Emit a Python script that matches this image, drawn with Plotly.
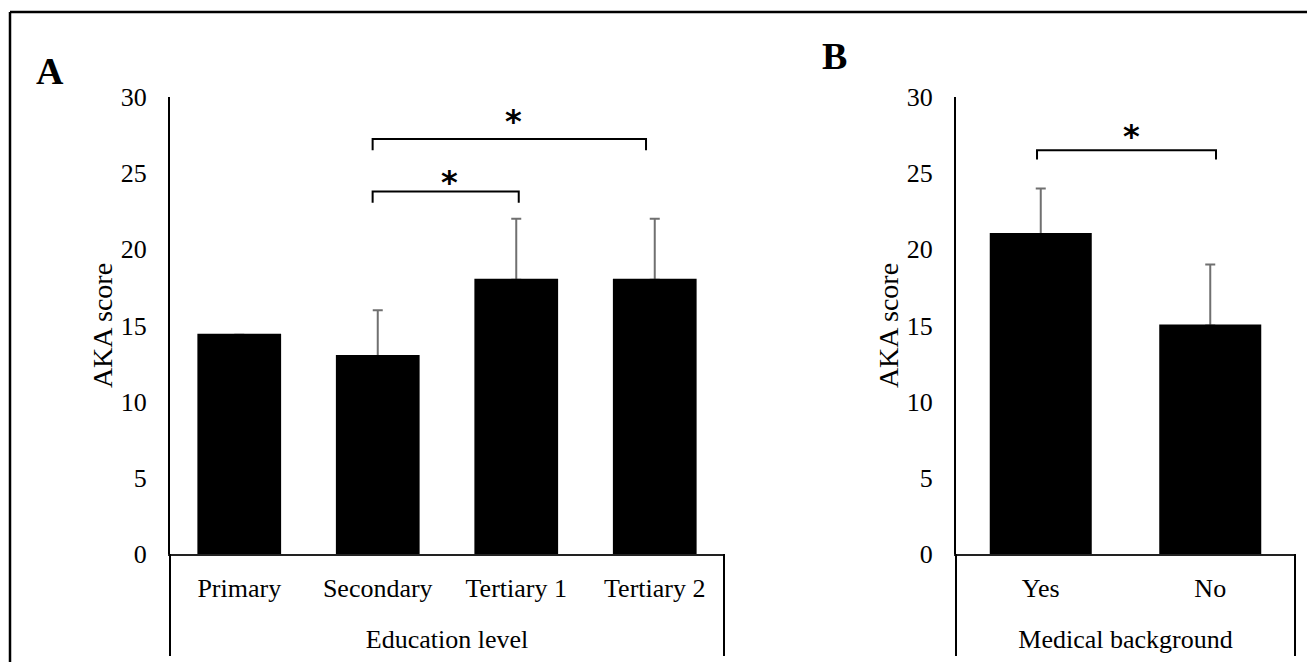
import plotly.graph_objects as go

# ---------------- data ----------------
edu_categories = ["Primary", "Secondary", "Tertiary 1", "Tertiary 2"]
edu_scores = [14.4, 13, 18, 18]
edu_err_plus = [None, 3, 4, 4]

med_categories = ["Yes", "No"]
med_scores = [21, 15]
med_err_plus = [3, 4]

y_ticks = [0, 5, 10, 15, 20, 25, 30]

# significance brackets: (axis, x_left, x_right, y_top, y_bottom, star_x, star_y)
brackets = [
    ("1", 0.963, 2.018, 23.8, 23.05, 1.52, 24.45),
    ("1", 0.963, 2.937, 27.25, 26.5, 1.98, 28.4),
    ("2", -0.022, 1.034, 26.5, 25.9, 0.537, 27.45),
]

# ---------------- layout helpers ----------------
W, H = 1307, 662
def px(x):
    return x / W
def py(y):
    return 1 - y / H

FONT = "Liberation Serif"
ERR_COLOR = "#707070"

def minus_of(errs):
    return [None if e is None else 0 for e in errs]

fig = go.Figure()
for cats, vals, errs, xa, ya in [(edu_categories, edu_scores, edu_err_plus, "x", "y"),
                                  (med_categories, med_scores, med_err_plus, "x2", "y2")]:
    # bars with the upper error bars
    fig.add_trace(go.Bar(
        x=cats, y=vals, xaxis=xa, yaxis=ya,
        marker=dict(color="black", line=dict(width=0)),
        error_y=dict(type="data", symmetric=False, array=errs,
                     arrayminus=minus_of(errs), color=ERR_COLOR,
                     thickness=2, width=5),
        showlegend=False, hoverinfo="skip",
    ))
    # same bars drawn again on top so only the upper half of each error bar shows
    fig.add_trace(go.Bar(
        x=cats, y=vals, xaxis=xa, yaxis=ya,
        marker=dict(color="black", line=dict(color="black", width=2)),
        showlegend=False, hoverinfo="skip",
    ))

ydom = [py(554), py(97)]
common_x = dict(showline=True, linecolor="#222", linewidth=1.5, ticks="",
                showgrid=False, zeroline=False, automargin=False,
                tickfont=dict(family=FONT, size=26, color="black"),
                ticklabelstandoff=10,
                title=dict(font=dict(family=FONT, size=26, color="black"), standoff=28))
common_y = dict(showline=True, linecolor="black", linewidth=2, ticks="",
                showgrid=False, zeroline=False, automargin=False,
                range=[0, 30], tickvals=y_ticks, domain=ydom,
                tickfont=dict(family=FONT, size=26, color="black"),
                ticklabelstandoff=16,
                title=dict(text="AKA score", font=dict(family=FONT, size=28, color="black"), standoff=0))

fig.update_layout(
    width=W, height=H,
    margin=dict(l=0, r=0, t=0, b=0),
    paper_bgcolor="white", plot_bgcolor="white",
    barmode="overlay",
    bargap=0.41,
    xaxis=dict(common_x, domain=[px(170), px(724)], anchor="y",
               range=[-0.5, 3.5], title_text="Education level"),
    yaxis=dict(common_y, anchor="x"),
    xaxis2=dict(common_x, domain=[px(956), px(1295)], anchor="y2",
                range=[-0.5, 1.5], title_text="Medical background"),
    yaxis2=dict(common_y, anchor="x2"),
)

shapes = []
# outer frame (top and left edges)
shapes.append(dict(type="line", xref="paper", yref="paper", x0=px(10), x1=1.0,
                   y0=py(12), y1=py(12), line=dict(color="black", width=2.5)))
shapes.append(dict(type="line", xref="paper", yref="paper", x0=px(10), x1=px(10),
                   y0=py(12), y1=0, line=dict(color="black", width=2.5)))
# category boxes below axes
for xl, xr in [(170, 724), (956, 1295)]:
    shapes.append(dict(type="line", xref="paper", yref="paper", x0=px(xl), x1=px(xl),
                       y0=py(554), y1=py(656), line=dict(color="black", width=2)))
    shapes.append(dict(type="line", xref="paper", yref="paper", x0=px(xr), x1=px(xr),
                       y0=py(554), y1=py(656), line=dict(color="black", width=2)))

annotations = []
for ax, x0, x1, yt, yb, sx, sy in brackets:
    xr = "x" if ax == "1" else "x2"
    yr = "y" if ax == "1" else "y2"
    shapes.append(dict(type="path", xref=xr, yref=yr,
                       path=f"M {x0},{yb} L {x0},{yt} L {x1},{yt} L {x1},{yb}",
                       line=dict(color="black", width=2)))
    annotations.append(dict(xref=xr, yref=yr, x=sx, y=sy, text="<b>*</b>", showarrow=False,
                            font=dict(family="DejaVu Sans", size=32, color="black"),
                            xanchor="center", yanchor="middle"))

annotations.append(dict(xref="paper", yref="paper", x=px(49.5), y=py(70.5), text="<b>A</b>",
                        showarrow=False, font=dict(family=FONT, size=38, color="black"),
                        xanchor="center", yanchor="middle"))
annotations.append(dict(xref="paper", yref="paper", x=px(834), y=py(56.5), text="<b>B</b>",
                        showarrow=False, font=dict(family=FONT, size=38, color="black"),
                        xanchor="center", yanchor="middle"))

fig.update_layout(shapes=shapes, annotations=annotations)
fig.write_html("out.html", config={"displayModeBar": False},
               post_script="document.body.style.margin='0px';")
